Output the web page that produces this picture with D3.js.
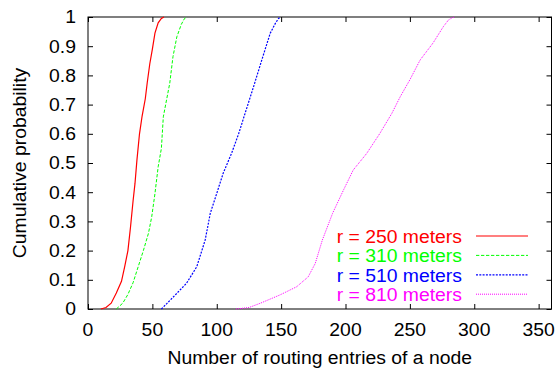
<!DOCTYPE html>
<html><head><meta charset="utf-8">
<script src="https://cdn.jsdelivr.net/npm/d3@7"></script>
<style>
html,body{margin:0;padding:0;background:#fff;}
text{font-family:"Liberation Sans",Arial,Helvetica,sans-serif;}
</style></head>
<body><svg id="c" width="556" height="369"></svg>
<script>
// ---- data ----
const xTicks = [0, 50, 100, 150, 200, 250, 300, 350];
const yTicks = [0, 0.1, 0.2, 0.3, 0.4, 0.5, 0.6, 0.7, 0.8, 0.9, 1];
const yTickLabels = ["0","0.1","0.2","0.3","0.4","0.5","0.6","0.7","0.8","0.9","1"];
const seriesNames = ["r = 250 meters", "r = 310 meters", "r = 510 meters", "r = 810 meters"];
const r250x = [10, 14, 18, 22, 26, 28.5, 31, 33, 35, 36.5, 38, 40, 42, 44.5, 46, 48, 50, 52, 54.5, 57, 59];
const r250y = [0, 0.005, 0.02, 0.055, 0.095, 0.145, 0.2, 0.28, 0.37, 0.43, 0.51, 0.6, 0.66, 0.72, 0.775, 0.84, 0.89, 0.945, 0.98, 0.995, 1];
const r310x = [22, 27, 31, 35, 39, 43, 47, 49.5, 52, 54.5, 57, 58.5, 61, 63.5, 66, 69, 72.5, 75, 77];
const r310y = [0, 0.02, 0.05, 0.09, 0.145, 0.2, 0.26, 0.316, 0.395, 0.487, 0.55, 0.658, 0.716, 0.773, 0.864, 0.932, 0.975, 0.995, 1];
const r510x = [57, 66, 76.5, 84.5, 91, 95, 100, 105, 111.5, 117, 122, 128.5, 135, 141.5, 145.5, 148, 149.5];
const r510y = [0, 0.04, 0.088, 0.145, 0.236, 0.328, 0.396, 0.465, 0.533, 0.6, 0.67, 0.76, 0.853, 0.944, 0.978, 0.995, 1];
const r810x = [115, 125, 134, 149, 162, 171, 176.5, 182, 190, 198.5, 206, 216.5, 226.5, 236, 242.5, 250, 258, 268, 276, 280, 283, 285];
const r810y = [0, 0.005, 0.02, 0.048, 0.076, 0.11, 0.156, 0.236, 0.328, 0.408, 0.476, 0.533, 0.6, 0.67, 0.727, 0.785, 0.853, 0.911, 0.967, 0.99, 0.998, 1];
const xLabel = "Number of routing entries of a node";
const yLabel = "Cumulative probability";

// ---- layout/styles ----
const colors = ["#ff0000", "#00ff00", "#0000ff", "#ff00ff"];
const dashes = [null, "3.3,1.7", "2,1.3", "1,1"];
const widths = [1.2, 1, 1.2, 1];
const L = 88, R = 551.5, T = 17, B = 309;
const FS = 17.6, SX = 1.1;

const svg = d3.select("#c");
const x = d3.scaleLinear().domain([0, 360]).range([L, R]);
const y = d3.scaleLinear().domain([0, 1]).range([B, T]);

function label(g, px, py, txt, anchor, color, rot) {
  const t = g.append("g").attr("transform", `translate(${px},${py})` + (rot ? ` rotate(${rot})` : "") + ` scale(${SX},1)`);
  t.append("text").attr("text-anchor", anchor).attr("font-size", FS).attr("fill", color || "#000").text(txt);
  return t;
}

// axes: inward ticks on all sides
const tick = 5;
svg.append("g").attr("transform", `translate(0,${B})`)
  .call(d3.axisBottom(x).tickValues(xTicks).tickSize(-tick).tickFormat(""));
svg.append("g").attr("transform", `translate(0,${T})`)
  .call(d3.axisTop(x).tickValues(xTicks).tickSize(-tick).tickFormat(""));
svg.append("g").attr("transform", `translate(${L},0)`)
  .call(d3.axisLeft(y).tickValues(yTicks).tickSize(-tick).tickFormat(""));
svg.append("g").attr("transform", `translate(${R},0)`)
  .call(d3.axisRight(y).tickValues(yTicks).tickSize(-tick).tickFormat(""));
svg.selectAll(".domain").remove();
svg.selectAll(".tick line").attr("stroke", "#000").attr("stroke-width", 1);
svg.append("rect").attr("x", L).attr("y", T).attr("width", R - L).attr("height", B - T)
  .attr("fill", "none").attr("stroke", "#000").attr("stroke-width", 1);

// tick labels
const lg = svg.append("g");
xTicks.forEach(v => label(lg, x(v), 335.5, String(v), "middle"));
yTicks.forEach((v, i) => label(lg, 76, y(v) + 6.3, yTickLabels[i], "end"));
label(lg, (L + R) / 2, 364, xLabel, "middle");
label(lg, 25.5, (T + B) / 2, yLabel, "middle", "#000", -90);

// series
const sx = [r250x, r310x, r510x, r810x], sy = [r250y, r310y, r510y, r810y];
const line = d3.line().x(d => x(d[0])).y(d => y(d[1]));
sx.forEach((xs, i) => {
  const pts = xs.map((v, j) => [v, sy[i][j]]);
  svg.append("path").datum(pts).attr("d", line).attr("fill", "none")
    .attr("stroke", colors[i]).attr("stroke-width", widths[i])
    .attr("stroke-dasharray", dashes[i]);
});

// legend
const legY = [236, 255.4, 274.8, 294.2];
seriesNames.forEach((n, i) => {
  label(svg, 462, legY[i] + 6.8, n, "end", colors[i]);
  svg.append("line").attr("x1", 476).attr("x2", 528).attr("y1", legY[i]).attr("y2", legY[i])
    .attr("stroke", colors[i]).attr("stroke-width", widths[i]).attr("stroke-dasharray", dashes[i]);
});
</script></body></html>
